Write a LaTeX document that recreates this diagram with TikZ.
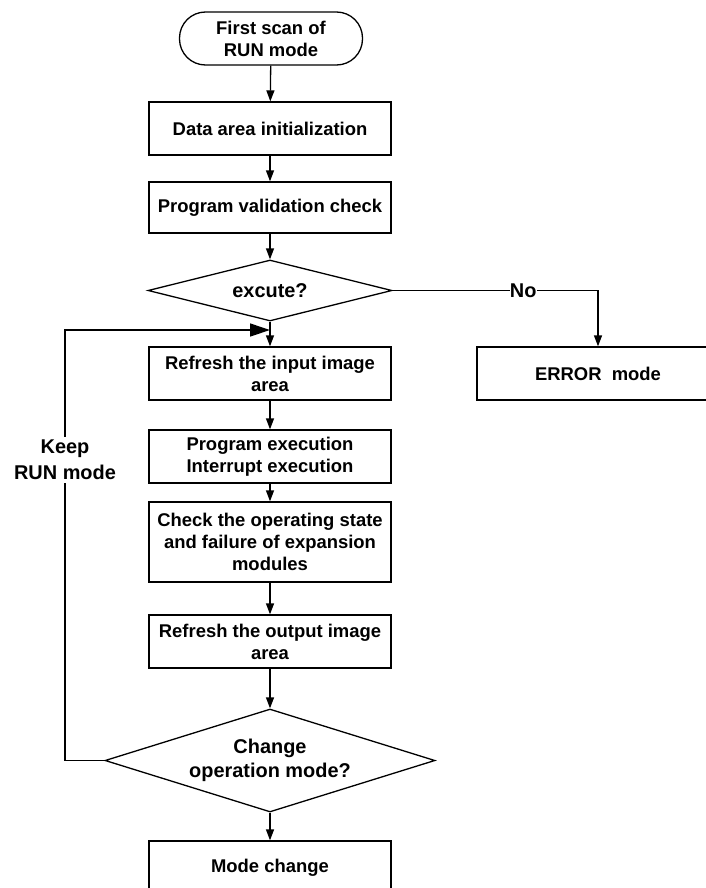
\documentclass[tikz,border=0pt]{standalone}
\usepackage{fontspec}
\setmainfont{Liberation Sans}
\usetikzlibrary{shapes.geometric, arrows.meta, positioning}

\tikzset{
  procbox/.style={draw, line width=1.3bp, minimum width=242bp, minimum height=53bp,
    align=center, inner sep=2bp, font=\fontsize{18.5}{22}\selectfont\bfseries},
  termbox/.style={procbox, rounded corners=26bp, minimum width=183bp},
  decide/.style={draw, diamond, line width=1.3bp, inner sep=0pt, align=center,
    font=\fontsize{20}{24}\selectfont\bfseries},
  flow/.style={line width=1.3bp, -{Triangle[length=11bp,width=8bp]}},
  biglab/.style={fill=white, align=center, font=\fontsize{20}{26}\selectfont\bfseries},
}

\begin{document}
\begin{tikzpicture}[x=1bp,y=-1bp]
\useasboundingbox (0,0) rectangle (706,888);
% main column
\node[termbox] (start) at (271,38.5) {First scan of\\RUN mode};
\node[procbox] (init) at (270,128.5) {Data area initialization};
\node[procbox, minimum height=51bp] (valid) at (270,207.5) {Program validation check};
\node[decide, minimum width=244bp, minimum height=61bp, aspect=4] (exec) at (270,290.5) {excute?};
\node[procbox] (input) at (270,373.5) {Refresh the input image\\area};
\node[procbox] (prog) at (270,456.5) {Program execution\\Interrupt execution};
\node[procbox, minimum height=80bp] (state) at (270,542) {Check the operating state\\and failure of expansion\\modules};
\node[procbox] (output) at (270,641.5) {Refresh the output image\\area};
\node[decide, minimum width=330bp, minimum height=103bp, aspect=3.2] (change) at (270,760.5) {Change\\operation mode?};
\node[procbox] (mode) at (270,867.5) {Mode change};
% error branch
\node[procbox] (error) at (598,373.5) {ERROR~~mode};
\coordinate (join) at (270,330);

\draw[flow] (start) -- (init);
\draw[flow] (init) -- (valid);
\draw[flow] (valid) -- (exec);
\draw[flow] (exec) -- (input);
\draw[flow] (input) -- (prog);
\draw[flow] (prog) -- (state);
\draw[flow] (state) -- (output);
\draw[flow] (output) -- (change);
\draw[flow] (change) -- (mode);
\draw[flow] (exec.east) -| node[pos=0.318, fill=white, inner sep=0pt,
  font=\fontsize{20}{24}\selectfont\bfseries] {No} (error.north);
% loop back
\draw[line width=1.3bp, -{Triangle[length=20bp,width=13bp]}] (change.west) -- (65,760.5)
  |- node[pos=0.349, biglab] {Keep\\RUN mode} (join);
\end{tikzpicture}
\end{document}
